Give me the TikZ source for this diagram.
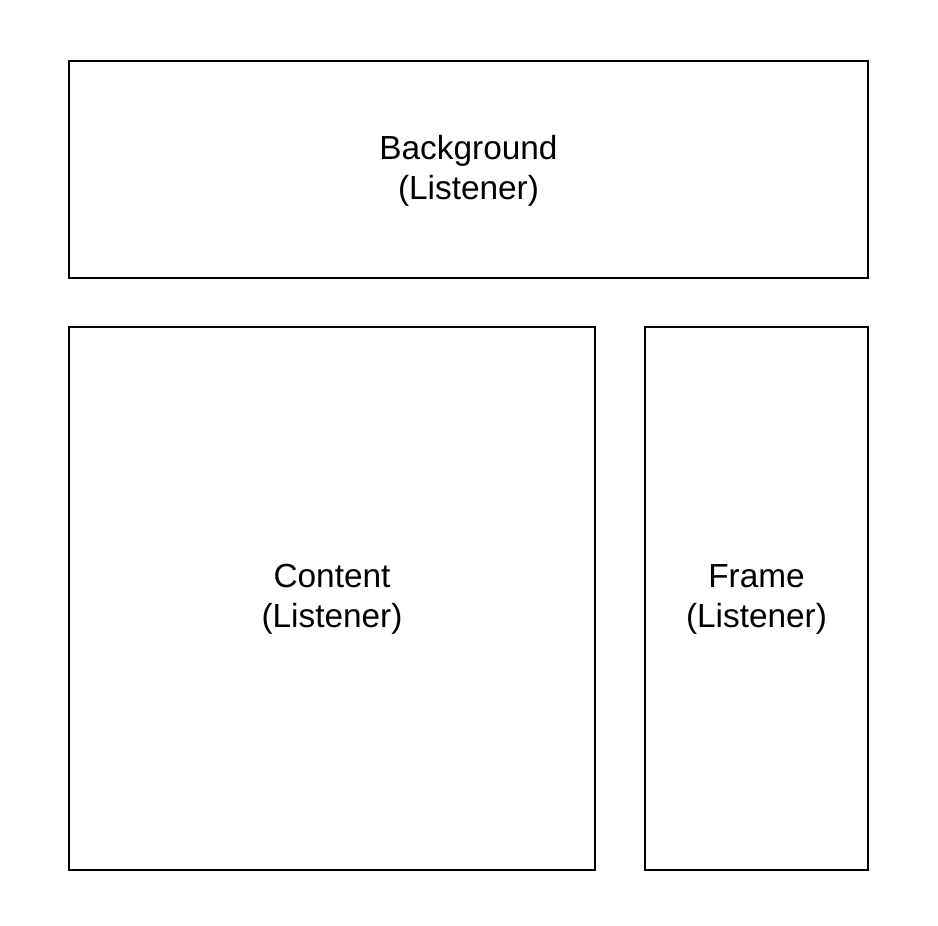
\documentclass[tikz,border=0pt]{standalone}
\usepackage{fontspec}
\setmainfont{Liberation Sans}
\begin{document}
\begin{tikzpicture}[x=0.02cm, y=-0.02cm,
    listener/.style={draw=black, line width=0.8pt, fill=white, inner sep=0pt,
      align=center, font=\fontsize{19}{22.8}\selectfont, text depth=0.1cm}]
    \useasboundingbox (0,0) rectangle (938,926);

    % 上の箱
    \node[listener, minimum width=15.98cm, minimum height=4.34cm] (bg) at (468.5,169.5) {Background\\(Listener)};

    % 左下の箱
    \node[listener, minimum width=10.52cm, minimum height=10.86cm] (content) at (332,598.5) {Content\\(Listener)};

    % 右下の箱
    \node[listener, minimum width=4.46cm, minimum height=10.86cm] (frame) at (756.5,598.5) {Frame\\(Listener)};
  \end{tikzpicture}
\end{document}
